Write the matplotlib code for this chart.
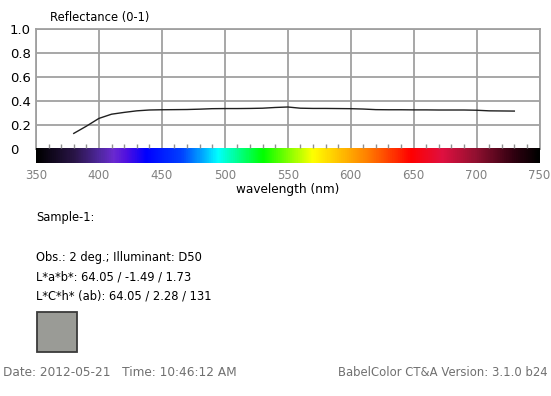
import numpy as np
import matplotlib
matplotlib.use("Agg")
import matplotlib.pyplot as plt
from matplotlib.colors import LinearSegmentedColormap
from matplotlib.patches import Rectangle

# spectral reflectance of Sample-1
wavelength = [380, 390, 400, 410, 420, 430, 440, 450, 460, 470, 480, 490, 500,
              510, 520, 530, 540, 550, 560, 570, 580, 590, 600, 610, 620, 630,
              640, 650, 660, 670, 680, 690, 700, 710, 720, 730]
reflectance = [0.13, 0.19, 0.255, 0.29, 0.305, 0.318, 0.325, 0.327, 0.328, 0.329,
               0.332, 0.336, 0.337, 0.337, 0.338, 0.340, 0.346, 0.350, 0.340, 0.338,
               0.338, 0.337, 0.336, 0.333, 0.328, 0.327, 0.327, 0.326, 0.326, 0.325,
               0.325, 0.325, 0.323, 0.318, 0.317, 0.316]

x_ticks = [350, 400, 450, 500, 550, 600, 650, 700, 750]
y_ticks = [0, 0.2, 0.4, 0.6, 0.8, 1.0]
y_labels = ["0", "0.2", "0.4", "0.6", "0.8", "1.0"]

# colour stops of the spectrum strip (nm, colour)
spec_nm = [350, 380, 400, 411, 421, 437, 465, 483, 494, 530, 570, 613, 648, 673, 700, 730, 750]
spec_col = ["#000000", "#2a1548", "#5028a0", "#6a2ad0", "#5010e0", "#0000ff", "#0040ff",
            "#00b0ff", "#00ffff", "#00ff00", "#ffff00", "#ff8000", "#ff0000", "#e01040",
            "#901030", "#300010", "#000000"]

info_lines = ["Obs.: 2 deg.; Illuminant: D50",
              "L*a*b*: 64.05 / -1.49 / 1.73",
              "L*C*h* (ab): 64.05 / 2.28 / 131"]
swatch = "#9a9b96"

W, H = 551, 396
fig = plt.figure(figsize=(W / 100, H / 100), dpi=100)
plt.rcParams["font.family"] = ["DejaVu Sans"]

def fx(px):
    return px / W

def fy(py):
    return 1 - py / H

grid_c = "#a0a0a0"
ax = fig.add_axes([fx(36), fy(149), fx(539.5 - 36), fy(29) - fy(149)])
ax.plot(wavelength, reflectance, color="#202020", lw=1.0, zorder=3)
ax.set_xlim(350, 750)
ax.set_ylim(0, 1)
ax.set_xticks(x_ticks)
ax.set_yticks(y_ticks)
ax.set_yticklabels(y_labels, fontsize=9.5)
for t in ax.get_yticklabels():
    t.set_ha("left")
ax.tick_params(axis="y", length=0, pad=18.7)
ax.tick_params(axis="x", length=0, labelbottom=False)
ax.grid(True, color=grid_c, lw=1.3)
for s in ax.spines.values():
    s.set_color(grid_c)
    s.set_linewidth(1.3)

# spectrum strip under the plot
bar = fig.add_axes([fx(36), fy(163.5), fx(539.5 - 36), fy(148) - fy(163.5)], zorder=5)
cmap = LinearSegmentedColormap.from_list(
    "spec", [((n - 350) / 400, c) for n, c in zip(spec_nm, spec_col)])
bar.imshow([np.linspace(350, 750, 800)], cmap=cmap, aspect="auto",
           extent=[350, 750, 0, 1], vmin=350, vmax=750)
bar.set_xlim(350, 750)
bar.set_yticks([])
bar.set_xticks(x_ticks)
bar.set_xticklabels([str(v) for v in x_ticks], fontsize=8.5, color="#808080")
bar.set_xticks(range(360, 750, 10), minor=True)
bar.tick_params(axis="x", which="major", length=0, pad=4)
bar.tick_params(axis="x", which="minor", top=True, bottom=False, direction="out",
                length=3, width=1, color="#909090")
for s in bar.spines.values():
    s.set_visible(False)

fs = 8.3
fig.text(fx(50), fy(17), "Reflectance (0-1)", fontsize=fs, va="center")
fig.text(fx(288), fy(190), "wavelength (nm)", fontsize=8.7, va="center", ha="center")
fig.text(fx(36), fy(218), "Sample-1:", fontsize=fs, va="center")
for i, line in enumerate(info_lines):
    fig.text(fx(36), fy(257 + 19.5 * i), line, fontsize=fs, va="center")

fig.patches.append(Rectangle((fx(37), fy(352)), fx(40), fy(312) - fy(352),
                             transform=fig.transFigure, facecolor=swatch,
                             edgecolor="#3a3a3a", lw=1.3))

fig.text(fx(3), fy(372), "Date: 2012-05-21   Time: 10:46:12 AM", fontsize=8.7,
         va="center", color="#707070")
fig.text(fx(548), fy(372), "BabelColor CT&A Version: 3.1.0 b24", fontsize=8.4,
         va="center", ha="right", color="#707070")

fig.savefig("out.png", dpi=100)
